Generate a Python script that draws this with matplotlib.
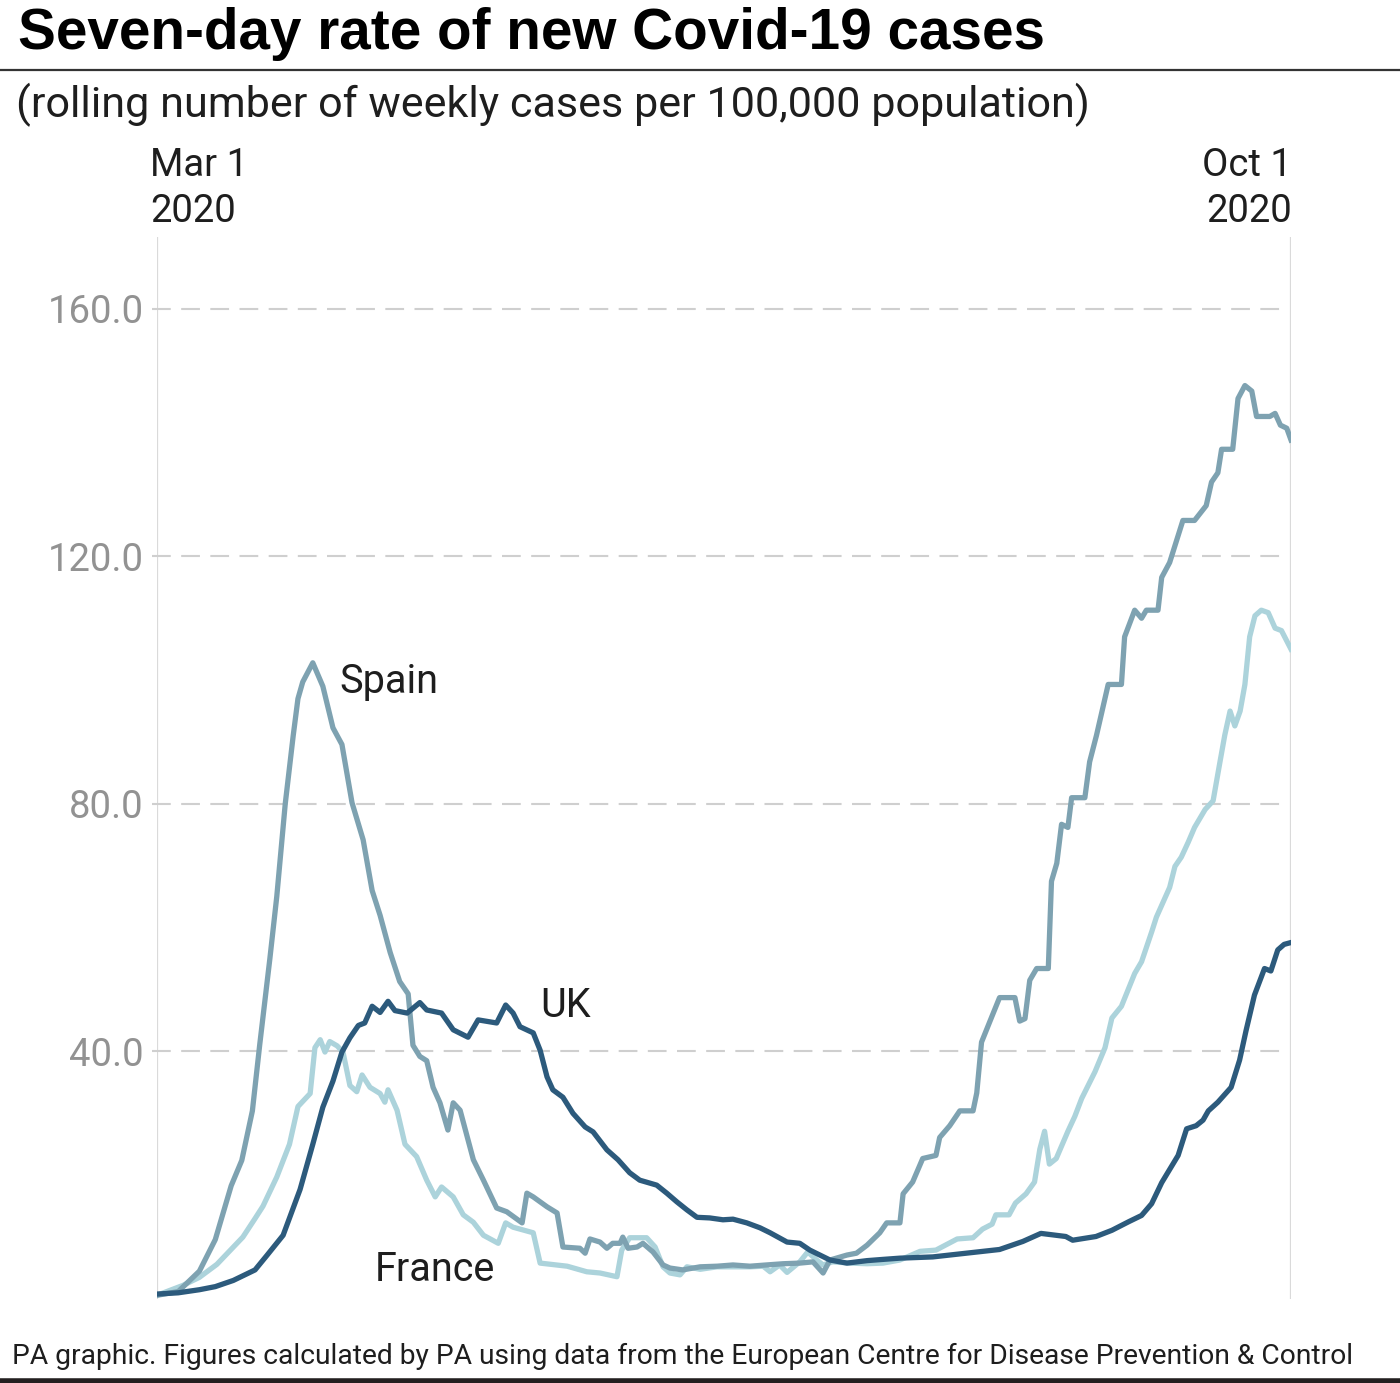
import matplotlib
matplotlib.use("Agg")
import matplotlib.pyplot as plt
from matplotlib.lines import Line2D

# ---------------- data (days since Mar 1 2020, weekly cases per 100k) -------------
spain_day = [0, 4, 8, 11, 14, 16, 18, 19.4, 21.3, 22.6, 24.2, 25.7, 26.6, 27.5, 29.4,
             31.3, 33.2, 34.9, 36.8, 38.9, 40.6, 42.1, 44, 45.8, 47.4, 48.3, 49.6, 50.9,
             52.1, 53.4, 54.9, 55.9, 57.2, 59.7, 61.6, 64.1, 66, 68.9, 69.8, 71, 73.6,
             75.5, 76.6, 79.8, 80.8, 81.7, 83.6, 84.9, 86, 87.4, 87.9, 88.9, 90.6, 91.7,
             93.6, 95.5, 96.8, 99.2, 102.5, 105.7, 108.7, 111.9, 115, 118.2, 121.3, 123.8,
             125.7, 127, 130.2, 132, 134, 136.4, 137.7, 140.2, 140.8, 142.6, 144.5, 147,
             147.7, 149.6, 151.5, 154, 154.7, 155.6, 157.2, 159, 161.9, 162.8, 163.8,
             164.7, 166, 168.2, 168.8, 169.8, 170.7, 171.9, 172.6, 175.1, 176, 177.3,
             179.5, 182, 182.6, 184.5, 185.8, 186.7, 188.9, 189.6, 191.1, 193.6, 195.8,
             198, 199, 200.2, 200.9, 203, 204, 205.3, 206.6, 207.5, 210, 211, 212, 213.2, 214]
spain_rate = [0.6, 1.2, 4.5, 9.6, 18.3, 22.4, 30.4, 41.2, 55, 65, 80, 91, 97, 99.7, 102.8,
              99, 92.3, 89.6, 80.2, 74.2, 66, 62, 56, 51.3, 49.3, 41, 39.2, 38.5,
              34.2, 31.7, 27.3, 31.7, 30.5, 22.5, 19.2, 14.7, 14.1, 12.3, 17.1, 16.5, 14.9,
              13.9, 8.4, 8.2, 7.4, 9.7, 9.2, 8.2, 9, 9, 10, 8.2, 8.4, 9,
              7.6, 5.5, 5, 4.7, 5.2, 5.3, 5.5, 5.3, 5.5, 5.7, 5.8, 6,
              4.2, 6.3, 7.1, 7.4, 8.7, 10.7, 12.3, 12.3, 17, 18.9, 22.7, 23.2,
              26.1, 28, 30.4, 30.4, 33.3, 41.5, 44.9, 48.7, 48.7, 44.9, 45.3,
              51.5, 53.4, 53.4, 67.5, 70.4, 76.7, 76.2, 81, 81, 86.8, 91.1,
              99.3, 99.3, 107, 111.3, 110, 111.3, 111.3, 116.6, 119, 125.8, 125.8,
              128.2, 132, 133.5, 137.3, 137.3, 145.5, 147.6, 146.7, 142.6, 142.6, 143.1,
              141.2, 140.7, 138.8]

uk_day = [0, 4, 8, 11, 14.4, 18.5, 20.7, 23.8, 27, 29.4, 31.3, 33.2, 34.9, 36.4, 38, 39.2,
          40.6, 42.1, 43.6, 44.9, 47.2, 49.6, 50.9, 53.7, 55.9, 58.7, 60.6, 64.1, 65.8,
          67.2, 68.5, 71, 72.3, 73.6, 74.7, 76.6, 78.5, 80.8, 82.3, 84.9, 87, 89.2, 91.1,
          94.3, 96.2, 98.1, 100, 101.9, 104.3, 106.8, 108.7, 111.3, 113.8, 115.7, 118.9,
          121.3, 123.2, 125.1, 127, 130.2, 134, 137, 140.2, 146.4, 152.7, 159, 163.4,
          166.8, 171.5, 172.8, 177.2, 180.2, 183.4, 185.8, 187.7, 189.6, 192.7, 194.3,
          196.1, 197.4, 198.4, 200.2, 202.7, 204.3, 205.5, 207.1, 209, 210.2, 211.5, 212.7, 214]
uk_rate = [0.8, 1.0, 1.5, 2, 3, 4.7, 7, 10.3, 17.7, 25, 31, 35.2, 39.9, 42.2, 44.2, 44.6,
           47.3, 46.3, 48.1, 46.6, 46.2, 47.9, 46.7, 46.2, 43.5, 42.3, 45.1, 44.6, 47.5,
           46.2, 44, 43, 40.2, 35.9, 33.8, 32.6, 30, 27.8, 27, 24.1, 22.5, 20.4, 19.2,
           18.4, 17.1, 15.7, 14.4, 13.2, 13.1, 12.8, 12.9, 12.3, 11.5, 10.7, 9.2,
           9, 7.9, 7.1, 6.3, 5.8, 6.2, 6.4, 6.6, 6.8, 7.4, 8.0, 9.3,
           10.6, 10.1, 9.5, 10.1, 11.1, 12.5, 13.5, 15.4, 18.8, 23.2, 27.5,
           28, 28.9, 30.4, 31.8, 34.2, 38.6, 43.3, 49.1, 53.4, 53, 56.4, 57.3, 57.6]

france_day = [0, 4.9, 8, 11.3, 16.2, 18.5, 20, 22.6, 25, 26.6, 28.9, 29.8, 30.8, 31.7, 32.6,
              34, 35.1, 36.4, 37.7, 38.7, 40.2, 42.1, 43, 43.6, 45.3, 46.8, 49, 50.9, 52.5,
              53.7, 55.9, 57.8, 59.7, 61.6, 64.4, 65.8, 67.2, 71, 72.3, 77.4, 81.1, 83.6,
              86.8, 87.7, 89.2, 92.4, 94, 95.5, 96.8, 98.7, 100, 102.5, 105.7, 108.7, 111.9,
              114.4, 115.7, 117.5, 118.9, 121.3, 122.8, 124.5, 125.7, 127.5, 130.8, 134, 137,
              140.2, 144, 147, 151, 154, 155.8, 157.6, 158.3, 160.8, 162, 164, 165.6, 166.6,
              167.5, 168.4, 169.7, 171.9, 173.2, 174.5, 177, 178.9, 180.2, 182, 184.5, 185.8,
              187.7, 188.6, 191.1, 192.1, 193.3, 194.6, 195.8, 197.8, 199.3, 200.6, 201.5,
              202.5, 203.4, 204.4, 205.3, 206.2, 207.2, 208.4, 209.7, 211, 212.2, 214]
france_rate = [0.6, 2.2, 3.5, 5.6, 10, 13, 15, 19.7, 25, 31.1, 33.2, 40.6, 41.9, 39.9, 41.6,
               40.9, 39.9, 34.5, 33.5, 36.2, 34.2, 33.2, 31.8, 33.8, 30.5, 25, 23, 19.2, 16.5,
               18.1, 16.5, 13.6, 12.4, 10.3, 9, 12.3, 11.6, 10.7, 5.8, 5.3, 4.4, 4.2,
               3.6, 7.9, 9.9, 9.9, 8.4, 5.2, 4.2, 3.9, 5.2, 4.8, 5.2, 5.2, 5.2,
               5.3, 4.4, 5.5, 4.3, 6, 7.6, 6.3, 5.5, 6, 5.8, 5.7, 5.8,
               6.3, 7.7, 7.9, 9.7, 9.9, 11.3, 12.1, 13.6, 13.6, 15.5, 17, 18.9, 24.2,
               27.1, 21.8, 22.7, 27.1, 29.5, 32.4, 36.7, 40.6, 45.4, 47.3, 52.6, 54.5,
               59.3, 61.7, 66.5, 69.9, 71.4, 73.8, 76.2, 79.1, 80.5, 86.8, 91.1,
               95, 92.6, 95, 99.3, 107, 110.4, 111.3, 110.9, 108.4, 108, 105]

y_ticks = [40, 80, 120, 160]
y_tick_labels = ["40.0", "80.0", "120.0", "160.0"]
x_ends = [0, 214]
x_end_labels = [("Mar 1", "2020"), ("Oct 1", "2020")]

# ---------------- styling ----------------
W, H = 1400, 1383
FONT = "Roboto"
WT = "normal"
C_SPAIN = "#7ea2b1"
C_FRANCE = "#acd3db"
C_UK = "#2c5a7c"
C_TEXT = "#1e1e1e"
C_TICK = "#929292"

fig = plt.figure(figsize=(W / 100, H / 100), dpi=100)
fig.patch.set_facecolor("white")

def fx(px):
    return px / W

def fy(py):
    return 1 - py / H

ax = fig.add_axes([fx(157), fy(1299), fx(1291) - fx(157), fy(237) - fy(1299)])
ax.set_xlim(0, 214)
ax.set_ylim(0, 171.6)
for s in ax.spines.values():
    s.set_visible(False)

# vertical end lines
for xv in x_ends:
    ax.axvline(xv, color="#dadada", lw=1.6, zorder=1)

# dashed gridlines
ax.hlines(y_ticks, -1.0, 212.5, colors="#cfcfcf", lw=1.5, linestyles=(0, (9, 5)), zorder=1,
          clip_on=False)

ax.set_xticks([])
ax.set_yticks(y_ticks)
ax.set_yticklabels(y_tick_labels)
ax.tick_params(axis="y", length=0, pad=9.5, labelcolor=C_TICK, labelsize=27.5)
for lab in ax.get_yticklabels():
    lab.set_fontfamily(FONT)
    lab.set_fontweight("normal")

lw = 3.8
ax.plot(france_day, france_rate, color=C_FRANCE, lw=lw, solid_joinstyle="round", zorder=3)
ax.plot(spain_day, spain_rate, color=C_SPAIN, lw=lw, solid_joinstyle="round", zorder=4)
ax.plot(uk_day, uk_rate, color=C_UK, lw=lw, solid_joinstyle="round", zorder=5)

# series labels
lab_kw = dict(fontsize=28.5, color=C_TEXT, family=FONT, fontweight=WT, va="center", ha="left")
ax.text(34.4, 99.8, "Spain", **lab_kw)
ax.text(72.3, 47.4, "UK", **lab_kw)
ax.text(41.1, 4.8, "France", **lab_kw)

# date labels on top
d_kw = dict(fontsize=27.5, color=C_TEXT, family=FONT, fontweight=WT, va="center")
fig.text(fx(150), fy(166), x_end_labels[0][0], ha="left", **d_kw)
fig.text(fx(150), fy(211), x_end_labels[0][1], ha="left", **d_kw)
fig.text(fx(1292), fy(166), x_end_labels[1][0], ha="right", **d_kw)
fig.text(fx(1292), fy(211), x_end_labels[1][1], ha="right", **d_kw)

# title + subtitle
fig.text(fx(18), fy(34), "Seven-day rate of new Covid-19 cases", fontsize=40.8, fontweight="bold",
         family="Liberation Sans", color="#000000", ha="left", va="center")
fig.add_artist(Line2D([0, 1], [fy(70), fy(70)], color="#333333", lw=1.6, transform=fig.transFigure))
fig.text(fx(16), fy(105), "(rolling number of weekly cases per 100,000 population)", fontsize=31.1,
         family=FONT, fontweight=WT, color=C_TEXT, ha="left", va="center")

# footer
fig.text(fx(12), fy(1356), "PA graphic. Figures calculated by PA using data from the European Centre for Disease Prevention & Control",
         fontsize=20.3, family=FONT, fontweight=WT, color=C_TEXT, ha="left", va="center")
fig.add_artist(Line2D([0, 1], [fy(1380.5), fy(1380.5)], color="#231f20", lw=4, transform=fig.transFigure))

fig.savefig("out.png", dpi=100, facecolor="white")
